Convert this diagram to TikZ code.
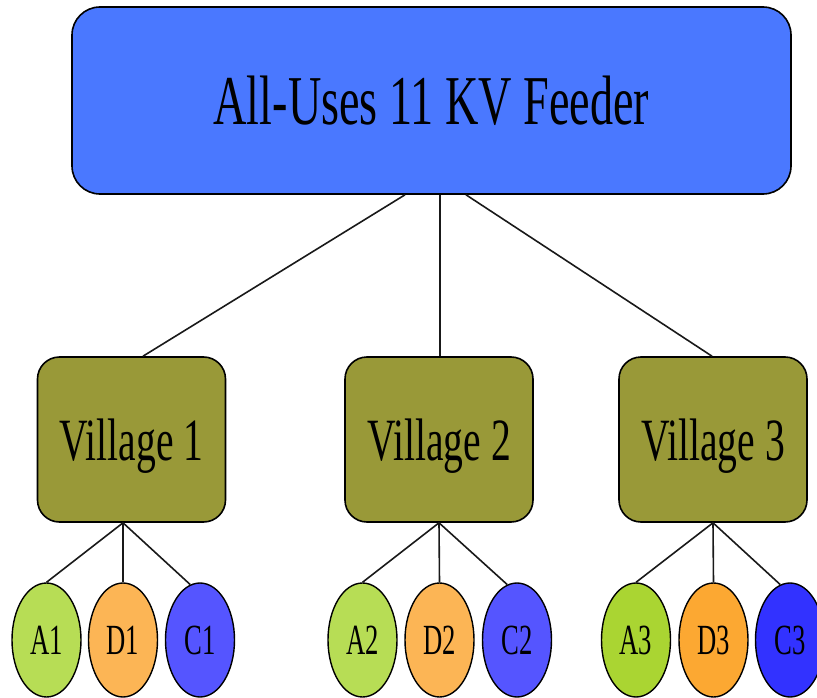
\documentclass[tikz,border=0pt]{standalone}
\usepackage{fontspec}
\setmainfont{Liberation Serif}
\newfontfamily\cond[FakeStretch=0.66]{Liberation Serif}
\newfontfamily\condleaf[FakeStretch=0.62]{Liberation Serif}
\usetikzlibrary{shapes.geometric}
\definecolor{feederblue}{RGB}{74,120,255}
\definecolor{olivebox}{RGB}{153,153,56}
\definecolor{agreen}{RGB}{183,221,85}
\definecolor{dorange}{RGB}{252,181,85}
\definecolor{cblue}{RGB}{85,85,255}
\definecolor{agreenb}{RGB}{170,213,50}
\definecolor{dorangeb}{RGB}{252,168,50}
\definecolor{cblueb}{RGB}{50,50,255}
\tikzset{
  feederbox/.style={draw=black, line width=1.6pt, fill=feederblue, rounded corners=28pt,
    minimum width=719pt, minimum height=187pt, inner sep=0pt, text depth=0pt,
    font=\cond\fontsize{70}{70}\selectfont},
  villagebox/.style={draw=black, line width=1.6pt, fill=olivebox, rounded corners=22pt,
    minimum width=188pt, minimum height=165pt, inner sep=0pt, text depth=0pt,
    font=\cond\fontsize{60}{60}\selectfont},
  leaf/.style={ellipse, draw=black, line width=1.4pt, minimum width=69pt, minimum height=114pt,
    inner sep=0pt, text depth=0pt, font=\condleaf\fontsize{43}{43}\selectfont},
  link/.style={draw=black!90, line width=1.6pt}
}
\begin{document}
\begin{tikzpicture}[x=1pt,y=-1pt]
\useasboundingbox (0,0) rectangle (817,698);
\clip (0,0) rectangle (817,698);
\node[feederbox] (feeder) at (431.5,100.5) {All-Uses 11 KV Feeder};
\node[villagebox] (v1) at (131.5,439.5) {Village 1};
\node[villagebox] (v2) at (439,439.5) {Village 2};
\node[villagebox] (v3) at (713,439.5) {Village 3};

\node[leaf, fill=agreen]   (a1) at (46.5,640) {A1};
\node[leaf, fill=dorange]  (d1) at (123,640) {D1};
\node[leaf, fill=cblue]    (c1) at (200,640) {C1};
\node[leaf, fill=agreen]   (a2) at (362.5,640) {A2};
\node[leaf, fill=dorange]  (d2) at (439.5,640) {D2};
\node[leaf, fill=cblue]    (c2) at (517,640) {C2};
\node[leaf, fill=agreenb]  (a3) at (636,640) {A3};
\node[leaf, fill=dorangeb] (d3) at (713.5,640) {D3};
\node[leaf, fill=cblueb]   (c3) at (790,640) {C3};

\path[link] ([xshift=-26.5pt]feeder.south) -- ([xshift=11.5pt]v1.north);
\path[link] ([xshift=8.5pt]feeder.south) -- ([xshift=1pt]v2.north);
\path[link] ([xshift=34.5pt]feeder.south) -- ([xshift=-1pt]v3.north);

\path[link] ([xshift=-8.5pt]v1.south) -- (a1.north);
\path[link] ([xshift=-8.5pt]v1.south) -- (d1.north);
\path[link] ([xshift=-8.5pt]v1.south) -- (c1.100);
\path[link] (v2.south) -- (a2.north);
\path[link] (v2.south) -- (d2.north);
\path[link] (v2.south) -- (c2.100);
\path[link] (v3.south) -- (a3.north);
\path[link] (v3.south) -- (d3.north);
\path[link] (v3.south) -- (c3.100);
\end{tikzpicture}
\end{document}
